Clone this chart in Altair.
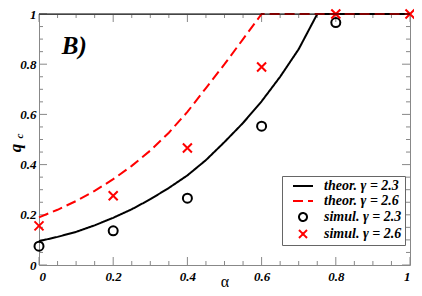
import altair as alt
import pandas as pd

SERIES = ["theor. γ = 2.3", "theor. γ = 2.6", "simul. γ = 2.3", "simul. γ = 2.6"]
COLORS = ["#000000", "#ff0000", "#000000", "#ff0000"]
SHAPES = ["M-2.5,0L2.5,0", "M-2.5,0L2.5,0", "circle", "M-1,-1L1,1M1,-1L-1,1"]
DASHES = [[1, 0], [10, 5], [1, 0], [1, 0]]

# theoretical curves
ALPHA_T23 = [0, 0.05, 0.1, 0.15, 0.2, 0.25, 0.3, 0.35, 0.4, 0.45, 0.5, 0.55, 0.6, 0.65, 0.7, 0.75, 0.8, 0.9, 1.0]
Q_T23 = [0.095, 0.112, 0.132, 0.158, 0.188, 0.222, 0.262, 0.307, 0.357, 0.418, 0.490, 0.566, 0.652, 0.75, 0.86, 1.0, 1.0, 1.0, 1.0]
ALPHA_T26 = [0, 0.05, 0.1, 0.15, 0.2, 0.25, 0.3, 0.35, 0.4, 0.45, 0.5, 0.55, 0.6, 0.7, 0.8, 0.9, 1.0]
Q_T26 = [0.19, 0.22, 0.255, 0.295, 0.342, 0.395, 0.456, 0.527, 0.61, 0.705, 0.80, 0.90, 1.0, 1.0, 1.0, 1.0, 1.0]

# simulations
ALPHA_S23 = [0, 0.2, 0.4, 0.6, 0.8]
Q_S23 = [0.075, 0.136, 0.266, 0.553, 0.966]
ALPHA_S26 = [0, 0.2, 0.4, 0.6, 0.8, 1.0]
Q_S26 = [0.156, 0.276, 0.466, 0.789, 1.0, 1.0]

MAJOR = [0, 0.2, 0.4, 0.6, 0.8, 1.0]
MINOR = [0.05, 0.1, 0.15, 0.25, 0.3, 0.35, 0.45, 0.5, 0.55, 0.65, 0.7, 0.75, 0.85, 0.9, 0.95]

W, H = 371, 251
GREY = "#888888"
FONT = "Liberation Serif"

lines = pd.concat([
    pd.DataFrame({"alpha": ALPHA_T23, "q": Q_T23, "series": SERIES[0]}),
    pd.DataFrame({"alpha": ALPHA_T26, "q": Q_T26, "series": SERIES[1]}),
])
points = pd.concat([
    pd.DataFrame({"alpha": ALPHA_S23, "q": Q_S23, "series": SERIES[2]}),
    pd.DataFrame({"alpha": ALPHA_S26, "q": Q_S26, "series": SERIES[3]}),
])

xs = alt.Scale(domain=[0, 1], nice=False, zero=False)
ys = alt.Scale(domain=[0, 1], nice=False, zero=False)

color = alt.Color("series:N", scale=alt.Scale(domain=SERIES, range=COLORS), title=None,
                  legend=alt.Legend(orient="none", legendX=243, legendY=162))
dash = alt.StrokeDash("series:N", scale=alt.Scale(domain=SERIES, range=DASHES), title=None)
shape = alt.Shape("series:N", scale=alt.Scale(domain=SERIES, range=SHAPES), title=None)

line_layer = alt.Chart(lines).mark_line(strokeWidth=2).encode(
    x=alt.X("alpha:Q", scale=xs, title="α",
            axis=alt.Axis(values=MAJOR, format="~g", ticks=False, domain=False, grid=False,
                          labelPadding=5, titleY=21, titleBaseline="alphabetic")),
    y=alt.Y("q:Q", scale=ys, title=None,
            axis=alt.Axis(values=MAJOR, format="~g", ticks=False, domain=False, grid=False,
                          labelPadding=3)),
    color=color,
    strokeDash=dash,
    detail="series:N",
)

point_layer = alt.Chart(points).mark_point(filled=False, strokeWidth=2, opacity=1, size=81).encode(
    x=alt.X("alpha:Q", scale=xs),
    y=alt.Y("q:Q", scale=ys),
    color=color,
    shape=shape,
)

major_df = pd.DataFrame({"alpha": MAJOR, "q": MAJOR})
minor_df = pd.DataFrame({"alpha": MINOR, "q": MINOR})

def tick_layers(df, length):
    b = alt.Chart(df).mark_rule(color=GREY, strokeWidth=1)
    return [
        b.encode(x=alt.X("alpha:Q", scale=xs), y=alt.value(H), y2=alt.value(H - length)),
        b.encode(x=alt.X("alpha:Q", scale=xs), y=alt.value(0), y2=alt.value(length)),
        b.encode(y=alt.Y("q:Q", scale=ys), x=alt.value(0), x2=alt.value(length)),
        b.encode(y=alt.Y("q:Q", scale=ys), x=alt.value(W), x2=alt.value(W - length)),
    ]

ticks = tick_layers(major_df, 8) + tick_layers(minor_df, 4)

top_line = alt.Chart(pd.DataFrame({"a": [0]})).mark_rule(color="black", strokeWidth=1).encode(
    x=alt.value(0), x2=alt.value(W), y=alt.value(0))

label_df = pd.DataFrame({"alpha": [0.095], "q": [0.873], "text": ["B)"]})
panel_label = alt.Chart(label_df).mark_text(
    font=FONT, fontSize=25, fontWeight="bold", fontStyle="italic", baseline="middle", align="center"
).encode(x=alt.X("alpha:Q", scale=xs), y=alt.Y("q:Q", scale=ys), text="text:N")

ytitle_q = alt.Chart(pd.DataFrame({"t": ["q"]})).mark_text(
    font=FONT, fontSize=17, fontWeight="bold", fontStyle="italic", angle=270, baseline="middle"
).encode(x=alt.value(-23), y=alt.value(134), text="t:N")
ytitle_c = alt.Chart(pd.DataFrame({"t": ["c"]})).mark_text(
    font=FONT, fontSize=11, fontWeight="bold", fontStyle="italic", angle=270, baseline="middle"
).encode(x=alt.value(-19), y=alt.value(122), text="t:N")

chart = alt.layer(
    *ticks, line_layer, point_layer, top_line, panel_label, ytitle_q, ytitle_c
).properties(
    width=W, height=H,
    autosize=alt.AutoSizeParams(type="none"),
    padding={"left": 31, "top": 6, "right": 4, "bottom": 23},
).configure_view(
    stroke=GREY, strokeWidth=1
).configure_axis(
    labelFont=FONT, labelFontSize=13, labelFontWeight="bold", labelFontStyle="italic",
    labelColor="black", titleFont=FONT, titleFontSize=16, titleFontWeight="normal", titleColor="black",
).configure_legend(
    labelFont=FONT, labelFontSize=14, labelFontWeight="bold", labelFontStyle="italic",
    labelColor="black", fillColor="white", strokeColor="#666666", padding=3,
    symbolStrokeWidth=2, symbolFillColor="transparent", symbolSize=64, rowPadding=1,
    symbolOffset=11, labelOffset=14, cornerRadius=0,
)

chart.save("out.html", embed_options={"renderer": "svg", "actions": False})
